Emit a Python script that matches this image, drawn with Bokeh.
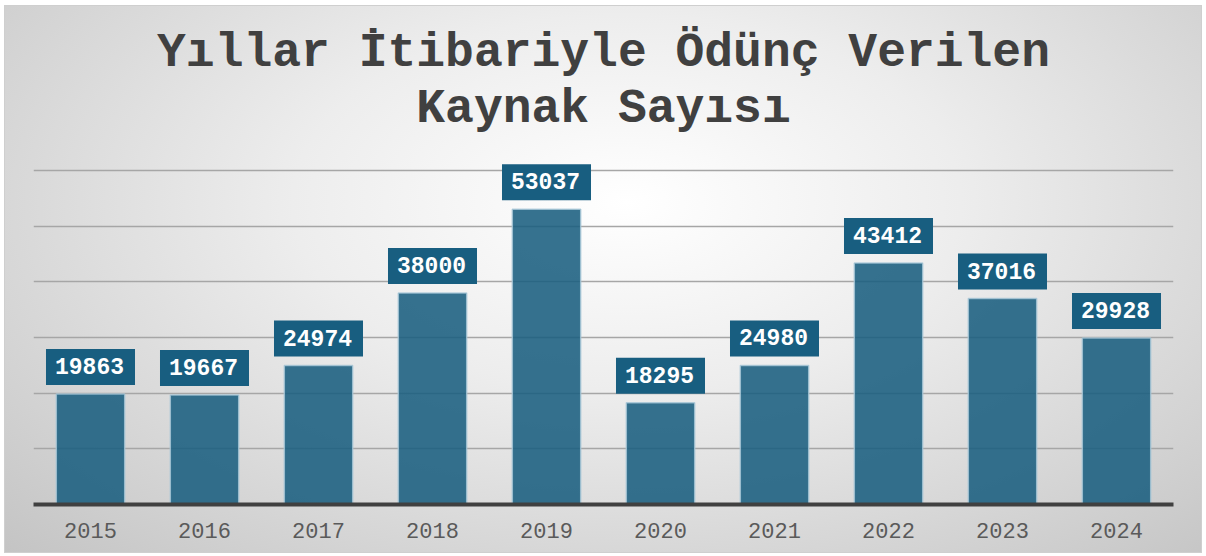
from bokeh.plotting import figure
from bokeh.models import Range1d, ColumnDataSource, FixedTicker, Title, LinearAxis
from bokeh.core.properties import value
from bokeh.embed import file_html
from bokeh.resources import INLINE

years = ["2015", "2016", "2017", "2018", "2019", "2020", "2021", "2022", "2023", "2024"]
counts = [19863, 19667, 24974, 38000, 53037, 18295, 24980, 43412, 37016, 29928]
labels = [str(c) for c in counts]
y_ticks = [0, 10000, 20000, 30000, 40000, 50000, 60000]
title_lines = ["Yıllar İtibariyle Ödünç Verilen", "Kaynak Sayısı"]

src = ColumnDataSource(dict(x=years, top=counts, label=labels))

p = figure(x_range=years, y_range=Range1d(0, 61640), width=1198, height=548,
           output_backend="svg", toolbar_location=None,
           min_border_left=28, min_border_right=30, min_border_bottom=50, min_border_top=155)

def style_title(t, standoff):
    t.align = "center"
    t.text_font = "Liberation Mono"
    t.text_font_style = "bold"
    t.text_font_size = "48px"
    t.text_color = "#404040"
    t.standoff = standoff

# invisible spacer between the title and the plot area (closest to the plot)
spacer = LinearAxis(ticker=FixedTicker(ticks=[0.5]), axis_line_color=None,
                    major_tick_line_color=None, minor_tick_line_color=None,
                    major_tick_in=0, major_tick_out=26, major_label_standoff=0,
                    major_label_overrides={0.5: ""}, major_label_text_font_size="1px")
p.add_layout(spacer, "above")

p.title.text = title_lines[0]
style_title(p.title, 0)
t2 = Title(text=title_lines[1])
style_title(t2, 0)
p.add_layout(t2, "above")

p.border_fill_color = None
p.background_fill_color = None
p.outline_line_color = None
p.styles = {
    "margin-left": "4px",
    "margin-top": "5px",
    "background-image": "radial-gradient(ellipse at 52% 36%, #ffffff 0%, #ededed 38%, #c4c4c4 100%)",
    "border": "1px solid #cfcfcf",
}

p.vbar(x="x", top="top", width=0.6, source=src, fill_color="#1a5e80", fill_alpha=0.88,
       line_color="#a9c8d8", line_width=1.5, line_alpha=0.8)

p.text(x="x", y="top", text="label", source=src, text_align="center", text_baseline="bottom",
       y_offset=-9, text_font=value("Liberation Mono"), text_font_style="bold",
       text_font_size="23px", text_color="white",
       background_fill_color="#185e80", padding=(9, 11, 9, 11))

p.yaxis.visible = False
p.yaxis.ticker = FixedTicker(ticks=y_ticks)
p.ygrid.grid_line_color = "#a6a6a6"
p.ygrid.grid_line_width = 1.5
p.xgrid.grid_line_color = None

xax = p.below[0]
xax.axis_line_color = "#404040"
xax.axis_line_width = 4
xax.major_tick_line_color = None
xax.minor_tick_line_color = None
xax.major_label_text_font = "Liberation Mono"
xax.major_label_text_font_size = "22px"
xax.major_label_text_color = "#5a5a5a"
xax.major_label_standoff = 12

open("out.html", "w").write(file_html(p, INLINE))
